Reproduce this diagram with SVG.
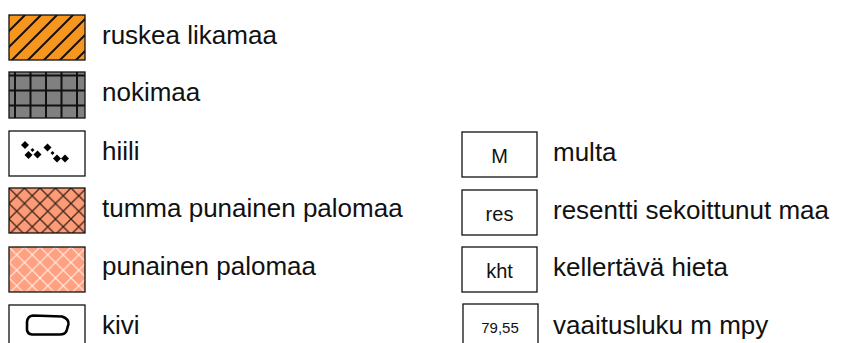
<svg xmlns="http://www.w3.org/2000/svg" width="844" height="343" viewBox="0 0 844 343">
<style>
.box{stroke:#111;stroke-width:1.3}
.lbl{font-family:"Liberation Sans",Arial,sans-serif;font-size:26px;fill:#111}
.in{font-family:"Liberation Sans",Arial,sans-serif;font-size:20px;fill:#111;text-anchor:middle}
.sm{font-size:15px}
</style>
<defs>
<pattern id="stripes" patternUnits="userSpaceOnUse" x="9" y="15" width="16" height="16">
<rect width="16" height="16" fill="#f7961f"/>
<path d="M-3,3 L3,-3 M0,16 L16,0 M13,19 L19,13" stroke="#1a1008" stroke-width="2"/>
</pattern>
<pattern id="darkhatch" patternUnits="userSpaceOnUse" x="9" y="188" width="15.5" height="15.5">
<rect width="15.5" height="15.5" fill="#fd9b78"/>
<path d="M0,0 L15.5,15.5 M15.5,0 L0,15.5" stroke="#3b2418" stroke-width="1.3"/>
</pattern>
<pattern id="lighthatch" patternUnits="userSpaceOnUse" x="9" y="247" width="15.5" height="15.5">
<rect width="15.5" height="15.5" fill="#ffa080"/>
<path d="M0,0 L15.5,15.5 M15.5,0 L0,15.5" stroke="#ffffff" stroke-width="1.1" stroke-opacity="0.85"/>
</pattern>
<path id="dia" d="M0,-4 L4,0 L0,4 L-4,0 Z" fill="#000"/>
<path id="dot" d="M0,-2 L2,0 L0,2 L-2,0 Z" fill="#000"/>
</defs>

<g id="ruskea-likamaa">
<rect class="box" x="9" y="15" width="76" height="45" fill="url(#stripes)"/>
<text class="lbl" x="102" y="44">ruskea likamaa</text>
</g>

<g id="nokimaa">
<rect x="9" y="72" width="76" height="46" fill="#808080"/>
<path d="M15,72 V118 M30.5,72 V118 M46,72 V118 M61.5,72 V118 M77,72 V118 M9,75.5 H85 M9,90.5 H85 M9,105.5 H85" stroke="#111" stroke-width="2"/>
<rect class="box" x="9" y="72" width="76" height="46" fill="none"/>
<text class="lbl" x="102" y="101">nokimaa</text>
</g>

<g id="hiili">
<rect class="box" x="9" y="131" width="76" height="45" fill="#fff"/>
<use href="#dia" x="25" y="145"/>
<use href="#dia" x="28.5" y="155"/>
<use href="#dot" x="32.5" y="150"/>
<use href="#dia" x="37.5" y="154.5"/>
<use href="#dia" x="47.5" y="147.5"/>
<use href="#dot" x="52.5" y="153"/>
<use href="#dia" x="57" y="158.5"/>
<use href="#dia" x="65" y="158.5"/>
<text class="lbl" x="102" y="160">hiili</text>
</g>

<g id="tumma-punainen-palomaa">
<rect class="box" x="9" y="188" width="76" height="45" fill="url(#darkhatch)"/>
<text class="lbl" x="102" y="217">tumma punainen palomaa</text>
</g>

<g id="punainen-palomaa">
<rect class="box" x="9" y="247" width="76" height="45" fill="url(#lighthatch)"/>
<text class="lbl" x="102" y="275">punainen palomaa</text>
</g>

<g id="kivi">
<rect class="box" x="9" y="305" width="76" height="45" fill="#fff"/>
<path d="M33,315.5 L62,316.5 Q69,319 68.5,324 L66.5,331 Q65,334.5 60,334.5 L32,334.5 Q27.5,334 27,330 L27,322 Q27.5,316 33,315.5 Z" fill="none" stroke="#000" stroke-width="2.6" stroke-linejoin="round"/>
<text class="lbl" x="102" y="334">kivi</text>
</g>

<g id="multa">
<rect class="box" x="462" y="132" width="75" height="45" fill="#fff"/>
<text class="in" x="499.5" y="163">M</text>
<text class="lbl" x="553" y="161">multa</text>
</g>

<g id="resentti">
<rect class="box" x="462" y="190" width="75" height="45" fill="#fff"/>
<text class="in" x="499.5" y="221">res</text>
<text class="lbl" x="553" y="219">resentti sekoittunut maa</text>
</g>

<g id="kellertava-hieta">
<rect class="box" x="462" y="247" width="75" height="45" fill="#fff"/>
<text class="in" x="499.5" y="278">kht</text>
<text class="lbl" x="553" y="276">kellertävä hieta</text>
</g>

<g id="vaaitusluku">
<rect class="box" x="463" y="304" width="75" height="46" fill="#fff"/>
<text class="in sm" x="500" y="333">79,55</text>
<text class="lbl" x="553" y="334">vaaitusluku m mpy</text>
</g>
</svg>
